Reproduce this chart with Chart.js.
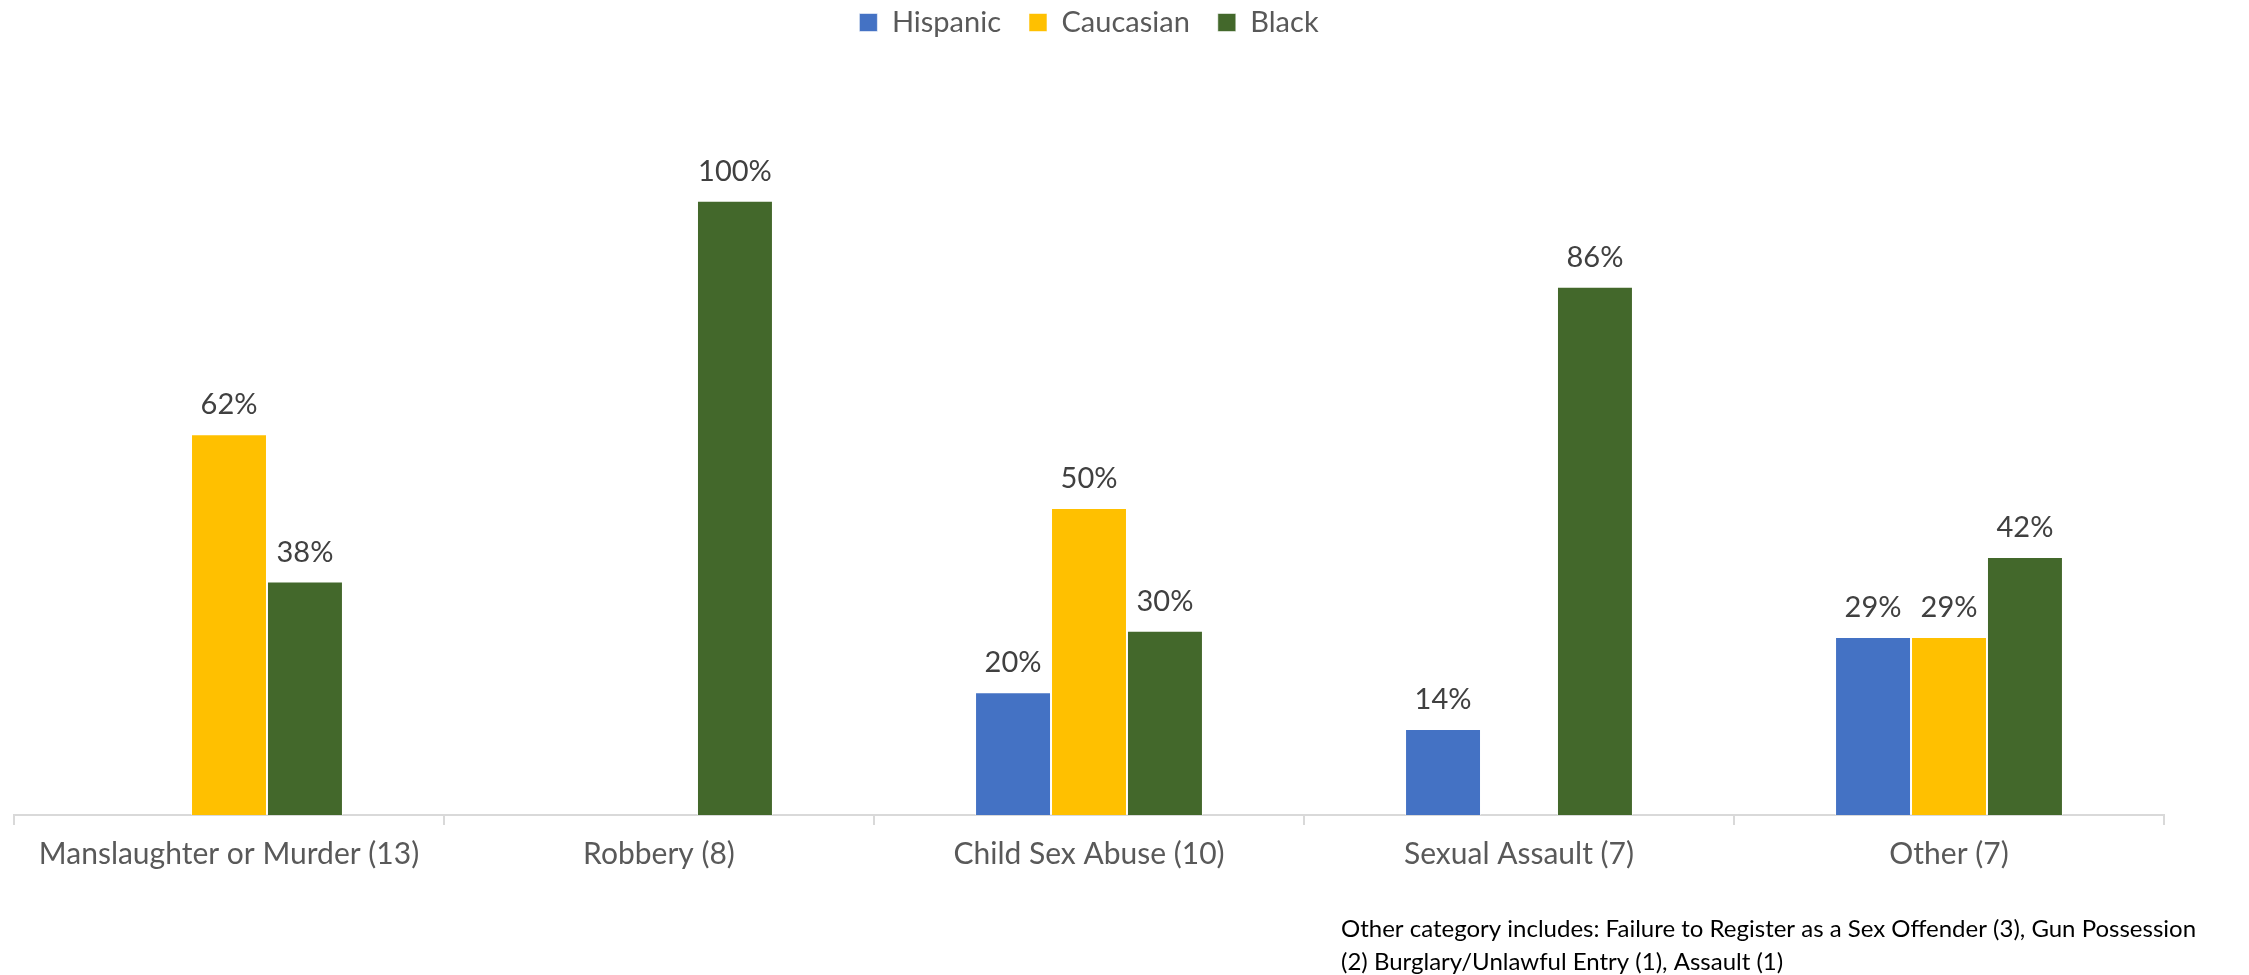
<!DOCTYPE html>
<html>
<head>
<meta charset="utf-8">
<script src="https://cdn.jsdelivr.net/npm/chart.js@4/dist/chart.umd.min.js"></script>
<style>
  html, body { margin: 0; padding: 0; background: #fff; }
</style>
</head>
<body>
<canvas id="offenses" width="2249" height="975"></canvas>
<script>
const categories = [
  'Manslaughter or Murder (13)',
  'Robbery (8)',
  'Child Sex Abuse (10)',
  'Sexual Assault (7)',
  'Other (7)',
]
// percent of exonerations per crime, blank where the group has none
const hispanic = [null, null, 20, 14, 29]
const caucasian = [62, null, 50, null, 29]
const black = [38, 100, 30, 86, 42]

const noteLines = [
  'Other category includes: Failure to Register as a Sex Offender (3), Gun Possession',
  '(2) Burglary/Unlawful Entry (1), Assault (1)',
]

Chart.defaults.font.family = 'Lato'

// legend sits at the very top, plot starts below a fixed band
const legendBand = {
  id: 'legendBand',
  beforeInit(chart) {
    const legend = chart.legend
    const fit = legend.fit
    legend.fit = function () {
      fit.call(this)
      this.height = 98
    }
  },
}

// percent labels above each bar
const valueLabels = {
  id: 'valueLabels',
  afterDatasetsDraw(chart) {
    const ctx = chart.ctx
    ctx.save()
    ctx.font = '29px Lato'
    ctx.fillStyle = '#404040'
    ctx.textAlign = 'center'
    ctx.textBaseline = 'alphabetic'
    chart.data.datasets.forEach((ds, i) => {
      const meta = chart.getDatasetMeta(i)
      meta.data.forEach((bar, j) => {
        const v = ds.data[j]
        if (v == null) return
        ctx.fillText(v + '%', bar.x, bar.y - 20)
      })
    })
    ctx.restore()
  },
}

// footnote under the axis, right side
const footNote = {
  id: 'footNote',
  afterDraw(chart) {
    const ctx = chart.ctx
    ctx.save()
    ctx.font = '24px Lato'
    ctx.fillStyle = '#000'
    ctx.textAlign = 'left'
    ctx.textBaseline = 'middle'
    noteLines.forEach((line, i) => {
      ctx.fillText(line, 1341, 929 + i * 33)
    })
    ctx.restore()
  },
}

const barStyle = {
  borderColor: 'rgba(255, 255, 255, 0.55)',
  borderWidth: 1,
  barPercentage: 1,
  categoryPercentage: 0.53,
}

const offensesChart = new Chart(document.getElementById('offenses'), {
  type: 'bar',
  data: {
    labels: categories,
    datasets: [
      { label: 'Hispanic', data: hispanic, backgroundColor: '#4472C4', ...barStyle },
      { label: 'Caucasian', data: caucasian, backgroundColor: '#FFC000', ...barStyle },
      { label: 'Black', data: black, backgroundColor: '#43682B', ...barStyle },
    ],
  },
  options: {
    responsive: false,
    animation: false,
    layout: {
      padding: { top: -20, left: 14, right: 85, bottom: 0 },
    },
    plugins: {
      legend: {
        position: 'top',
        labels: {
          boxWidth: 18,
          boxHeight: 18,
          padding: 28,
          color: '#595959',
          font: { size: 29 },
        },
      },
      tooltip: { enabled: false },
    },
    scales: {
      x: {
        grid: {
          display: true,
          drawOnChartArea: false,
          drawTicks: true,
          tickLength: 10,
          color: '#d9d9d9',
          lineWidth: 2,
          offset: true,
        },
        border: { display: true, color: '#d9d9d9', width: 2 },
        ticks: {
          color: '#595959',
          font: { size: 30 },
          padding: 11,
          maxRotation: 0,
          autoSkip: false,
        },
        afterFit: scale => {
          scale.height = 160
        },
      },
      y: {
        display: false,
        min: 0,
        max: 120,
      },
    },
  },
  plugins: [legendBand, valueLabels, footNote],
})
</script>
</body>
</html>
